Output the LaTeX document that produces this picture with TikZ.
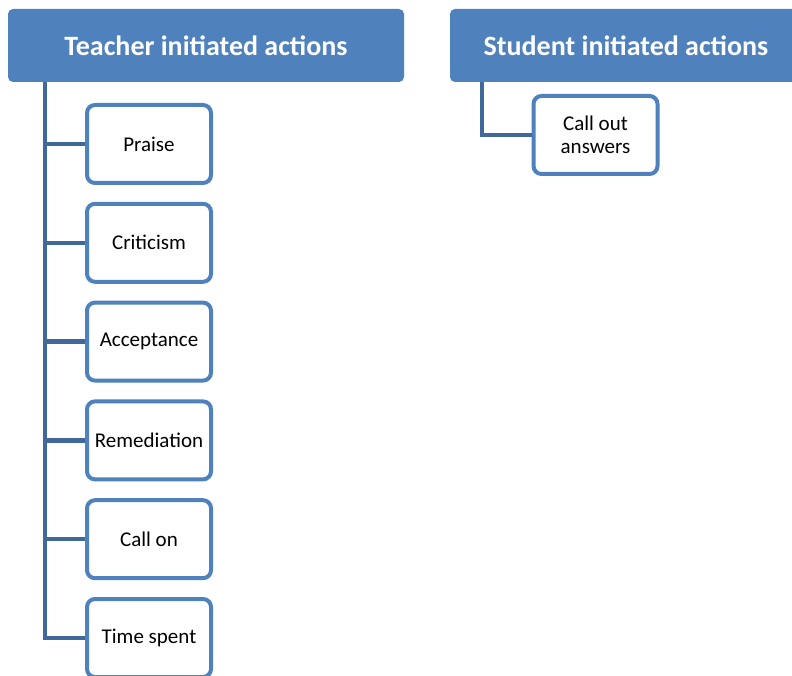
\documentclass[tikz,border=0pt]{standalone}
\usepackage{fontspec}
\setmainfont{Carlito}
\usetikzlibrary{positioning}
\definecolor{hdrblue}{HTML}{4F81BD}
\definecolor{linkblue}{HTML}{41689A}
\tikzset{
    headnode/.style = {rectangle, rounded corners=5pt, fill=hdrblue, text=white, font=\bfseries\fontsize{28}{32}\selectfont, minimum height=73pt, inner sep=0pt},
    itemnode/.style = {rectangle, rounded corners=8pt, draw=hdrblue, line width=4pt, fill=white, align=center, font=\fontsize{21}{23}\selectfont, minimum width=124pt, minimum height=78pt, inner sep=0pt},
    edgel/.style = {-, line width=4.5pt, linkblue},
}

\begin{document}
\begin{tikzpicture}[x=1pt, y=-1pt, node distance=16.8pt]
  \useasboundingbox (0,0) rectangle (792,676);
  \clip (0,0) rectangle (792,676);
  % headers
  \node[headnode, minimum width=396pt] (teacher) at (206,45.5) {Teacher initiated actions};
  \node[headnode, minimum width=352pt] (student) at (626,45.5) {Student initiated actions};
  \coordinate (tstem) at (45,82);
  \coordinate (sstem) at (482,82);
  % teacher items
  \node[itemnode] (praise) at (149,144) {Praise};
  \node[itemnode, below=of praise] (criticism) {Criticism};
  \node[itemnode, below=of criticism] (acceptance) {Acceptance};
  \node[itemnode, below=of acceptance] (remediation) {Remediation};
  \node[itemnode, below=of remediation] (callon) {Call on};
  \node[itemnode, below=of callon] (timespent) {Time spent};
  % student item
  \node[itemnode] (callout) at (595.5,135) {Call out\\answers};
  % links
  \draw[edgel] (tstem) |- (timespent.west);
  \draw[edgel] (tstem |- praise.west) -- (praise.west);
  \draw[edgel] (tstem |- criticism.west) -- (criticism.west);
  \draw[edgel] (tstem |- acceptance.west) -- (acceptance.west);
  \draw[edgel] (tstem |- remediation.west) -- (remediation.west);
  \draw[edgel] (tstem |- callon.west) -- (callon.west);
  \draw[edgel] (sstem) |- (callout.west);
\end{tikzpicture}
\end{document}
